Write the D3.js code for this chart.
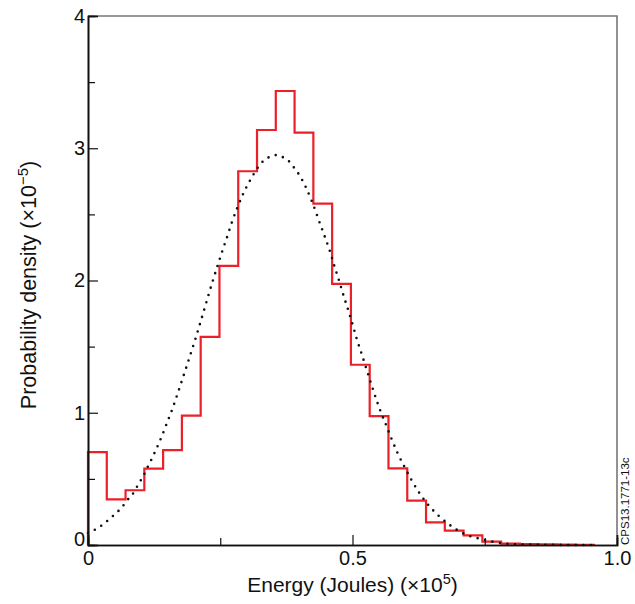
<!DOCTYPE html>
<html>
<head>
<meta charset="utf-8">
<script src="https://cdn.jsdelivr.net/npm/d3@7"></script>
<style>
body { margin: 0; background: #fff; }
svg text { font-family: 'Liberation Sans', Arial, Helvetica, sans-serif; }
</style>
</head>
<body>
<script>
(function(document, window){
'use strict';

// histogram: bins start at 0, equal width (energy in 1e5 J)
var binStart = 0;
var binWidth = 0.0355;
var binValues = [0.703, 0.345, 0.414, 0.577, 0.718, 0.978, 1.573, 2.11, 2.826, 3.138,
				3.433, 3.118, 2.581, 1.974, 1.363, 0.975, 0.58, 0.335, 0.171, 0.108,
				0.073, 0.025, 0.01, 0.006, 0.004, 0.003, 0.002];

// dotted fit curve
var fitX = [0, 0.0164, 0.0277, 0.039, 0.0498, 0.0605, 0.0706, 0.078, 0.0876, 0.0945,
			0.1015, 0.1084, 0.1147, 0.121, 0.127, 0.133, 0.1386, 0.149, 0.1594, 0.1688,
			0.1777, 0.1866, 0.1953, 0.2042, 0.2123, 0.2206, 0.2287, 0.2369, 0.2457, 0.2546,
			0.264, 0.2728, 0.283, 0.2943, 0.3075, 0.3226, 0.332, 0.344, 0.358, 0.371,
			0.3825, 0.391, 0.3995, 0.4127, 0.424, 0.4386, 0.4486, 0.458, 0.4663, 0.475,
			0.4833, 0.492, 0.5004, 0.5085, 0.5174, 0.5262, 0.5533, 0.564, 0.5747, 0.586,
			0.5987, 0.6125, 0.6276, 0.645, 0.6654, 0.6875, 0.713, 0.74, 0.7675, 0.796,
			0.83, 0.88, 0.96];
var fitY = [0.09, 0.123, 0.154, 0.191, 0.229, 0.27, 0.318, 0.358, 0.403, 0.454,
			0.501, 0.552, 0.607, 0.655, 0.708, 0.761, 0.814, 0.92, 1.028, 1.137,
			1.245, 1.353, 1.462, 1.573, 1.681, 1.792, 1.903, 2.011, 2.122, 2.231,
			2.342, 2.45, 2.558, 2.664, 2.765, 2.863, 2.906, 2.936, 2.949, 2.926,
			2.891, 2.845, 2.798, 2.697, 2.591, 2.43, 2.321, 2.213, 2.102, 1.994,
			1.883, 1.775, 1.664, 1.552, 1.444, 1.333, 1.008, 0.902, 0.794, 0.688,
			0.588, 0.484, 0.386, 0.295, 0.212, 0.141, 0.081, 0.048, 0.023, 0.008,
			0.003, 0.001, 0];

var xTicks = [0, 0.5, 1.0];
var xTickLabels = ['0', '0.5', '1.0'];
var xMinorTicks = [0.25, 0.75];
var yTicks = [0, 1, 2, 3, 4];
var yMinorTicks = [0.5, 1.5, 2.5, 3.5];

var width = 635;
var height = 604;
var margin = {top: 16, right: 18, bottom: 59, left: 88};
var w = width - margin.left - margin.right;
var h = height - margin.top - margin.bottom;

var svg = d3.select('body').append('svg')
			.attr('width', width)
			.attr('height', height);

var g = svg.append('g')
			.attr('transform', 'translate(' + margin.left + ',' + margin.top + ')');

var x = d3.scaleLinear().domain([0, 1]).range([0, w]);
var y = d3.scaleLinear().domain([0, 4]).range([h, 0]);

// frame top / right (grey)
g.append('path')
	.attr('d', 'M0,0H' + w + 'V' + h)
	.attr('fill', 'none')
	.attr('stroke', '#777')
	.attr('stroke-width', 1.6);

// histogram as a step line
var histPts = [[binStart, 0]];
binValues.forEach(function(v, i){ histPts.push([binStart + i * binWidth, v]); });
histPts.push([binStart + binValues.length * binWidth, binValues[binValues.length - 1]]);

var stepLine = d3.line()
				.x(function(d){ return x(d[0]); })
				.y(function(d){ return y(d[1]); })
				.curve(d3.curveStepAfter);

g.append('path')
	.datum(histPts)
	.attr('d', stepLine)
	.attr('fill', 'none')
	.attr('stroke', '#ec2028')
	.attr('stroke-width', 2.2);

// dotted curve
var fitLine = d3.line()
				.x(function(d){ return x(d[0]); })
				.y(function(d){ return y(d[1]); })
				.curve(d3.curveMonotoneX);

g.append('path')
	.datum(fitX.map(function(v, i){ return [v, fitY[i]]; }))
	.attr('d', fitLine)
	.attr('fill', 'none')
	.attr('stroke', '#111')
	.attr('stroke-width', 2.6)
	.attr('stroke-linecap', 'round')
	.attr('stroke-dasharray', '0 7.6');

// axes, ticks point inward
var xAxis = d3.axisBottom(x)
				.tickValues(xTicks)
				.tickFormat(function(d, i){ return xTickLabels[i]; })
				.tickSize(-10)
				.tickPadding(6);
var xMinor = d3.axisBottom(x).tickValues(xMinorTicks).tickFormat('').tickSize(-7);

var yAxis = d3.axisLeft(y)
				.tickValues(yTicks)
				.tickFormat(d3.format('d'))
				.tickSize(-10)
				.tickPadding(3);
var yMinor = d3.axisLeft(y).tickValues(yMinorTicks).tickFormat('').tickSize(-7);

function styleAxis(sel){
	sel.select('.domain').attr('stroke', '#111').attr('stroke-width', 1.6);
	sel.selectAll('.tick line').attr('stroke', '#111').attr('stroke-width', 1.2);
	sel.selectAll('.tick text').attr('font-size', 20).attr('fill', '#111')
		.attr('font-family', "'Liberation Sans', Arial, sans-serif");
}

g.append('g').attr('transform', 'translate(0,' + h + ')').call(xMinor).call(styleAxis);
g.append('g').call(yMinor).call(styleAxis);
g.append('g').attr('transform', 'translate(0,' + h + ')').call(xAxis).call(styleAxis);
var yg = g.append('g').call(yAxis).call(styleAxis);

// the 0 on the y axis sits on the baseline
yg.selectAll('.tick text').filter(function(d){ return d === 0; }).attr('dy', '0em');

// axis titles
var xt = svg.append('text')
			.attr('x', margin.left + w / 2)
			.attr('y', 592)
			.attr('text-anchor', 'middle')
			.attr('font-size', 21)
			.attr('fill', '#111')
			.text('Energy (Joules) (\u00d710');
xt.append('tspan').attr('font-size', 14.5).attr('dy', -8).text('5');
xt.append('tspan').attr('dy', 8).text(')');

var yt = svg.append('text')
			.attr('transform', 'translate(36,' + 285 + ') rotate(-90)')
			.attr('text-anchor', 'middle')
			.attr('font-size', 21.5)
			.attr('fill', '#111')
			.text('Probability density (\u00d710');
yt.append('tspan').attr('font-size', 15).attr('dy', -8).text('\u22125');
yt.append('tspan').attr('dy', 8).text(')');

// figure id
svg.append('text')
	.attr('transform', 'translate(629,' + (margin.top + h) + ') rotate(-90)')
	.attr('font-size', 11.5)
	.attr('fill', '#111')
	.text('CPS13.1771-13c');

})(document, window);
</script>
</body>
</html>
